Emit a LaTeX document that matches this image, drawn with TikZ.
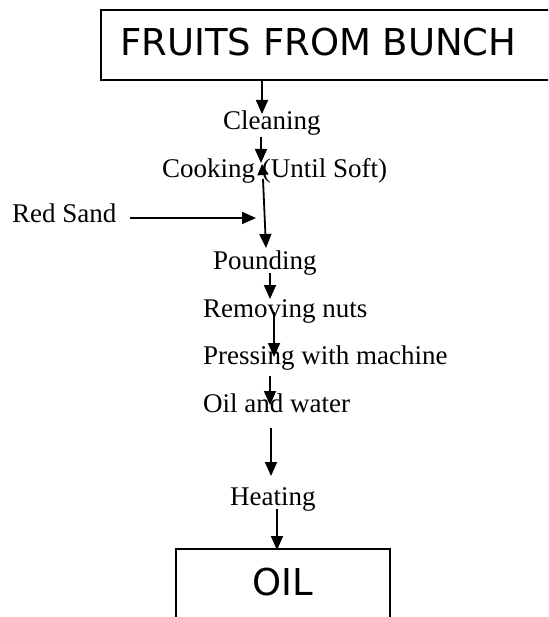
\documentclass[tikz,border=0pt]{standalone}
\usepackage{fontspec}
\setmainfont{Liberation Serif}
\newfontfamily\sansf{DejaVu Sans}
\usetikzlibrary{arrows.meta}
\begin{document}
\begin{tikzpicture}[x=1pt,y=-1pt,
  lbl/.style={anchor=base west,inner sep=0pt,font=\fontsize{27}{32}\selectfont},
  big/.style={anchor=base west,inner sep=0pt,font=\sansf\fontsize{37}{44}\selectfont},
  boxline/.style={line width=1.4pt},
  flow/.style={line width=1.8pt,-{Triangle[width=12pt,length=14pt]}},
  headonly/.style={line width=1.8pt,-{Triangle[width=11pt,length=11pt]}}]
\useasboundingbox (0,0) rectangle (548,617);
\clip (0,0) rectangle (548,617);
% boxes
\draw[boxline] (101,10) rectangle (600,80);
\node[big] (fruits) at (120,56) {FRUITS FROM BUNCH};
\draw[boxline] (176,549) rectangle (390,660);
\node[big] (oil) at (252,595) {OIL};
% step labels
\node[lbl] (cleaning) at (223,130) {Cleaning};
\node[lbl] (cooking) at (162,178) {Cooking (Until Soft)};
\node[lbl] (redsand) at (12,223) {Red Sand};
\node[lbl] (pounding) at (213,269) {Pounding};
\node[lbl] (removing) at (203,317) {Removing nuts};
\node[lbl] (pressing) at (203,364) {Pressing with machine};
\node[lbl] (oilwater) at (203,412) {Oil and water};
\node[lbl] (heating) at (230,505) {Heating};
% arrow end points
\coordinate (a1s) at (262,80);  \coordinate (a1e) at (262,114);
\coordinate (a2s) at (261,137); \coordinate (a2e) at (261,163);
\coordinate (a3s) at (263,179); \coordinate (a3e) at (266,248);
\coordinate (a3t) at (263,175); \coordinate (a3u) at (262,164);
\coordinate (rss) at (130,218); \coordinate (rse) at (256,218);
\coordinate (a4s) at (270,273); \coordinate (a4e) at (270,299);
\coordinate (a5s) at (274,312); \coordinate (a5e) at (274,357);
\coordinate (a6s) at (270,376); \coordinate (a6e) at (270,405);
\coordinate (a7s) at (271,428); \coordinate (a7e) at (271,476);
\coordinate (a8s) at (277,509); \coordinate (a8e) at (277,550);
% connectors
\draw[flow] (a1s) -- (a1e);
\draw[flow] (a2s) -- (a2e);
\draw[flow] (a3s) -- (a3e);
\draw[headonly] (a3t) -- (a3u);
\draw[flow] (rss) -- (rse);
\draw[flow] (a4s) -- (a4e);
\draw[flow] (a5s) -- (a5e);
\draw[flow] (a6s) -- (a6e);
\draw[flow] (a7s) -- (a7e);
\draw[flow] (a8s) -- (a8e);
\end{tikzpicture}
\end{document}
